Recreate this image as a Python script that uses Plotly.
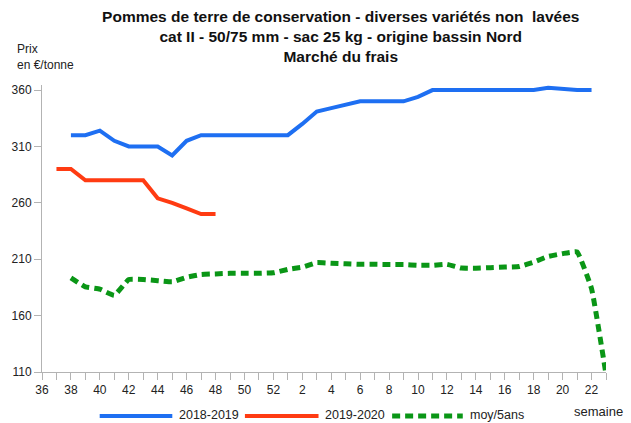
import plotly.graph_objects as go

# Week categories (campaign from week 36 to week 23)
weeks = [str(w) for w in list(range(36, 53)) + list(range(1, 24))]
tick_labels = [w if i % 2 == 0 else "" for i, w in enumerate(weeks)]

# 2018-2019 : weeks 38 .. 22
weeks_1819 = weeks[2:39]
prix_1819 = [320, 320, 324, 315, 310, 310, 310, 302, 315, 320,
             320, 320, 320, 320, 320, 320,
             330, 341, 344, 347, 350, 350, 350, 350, 354, 360,
             360, 360, 360, 360, 360, 360, 360, 362, 361, 360, 360]

# 2019-2020 : weeks 37 .. 48
weeks_1920 = weeks[1:13]
prix_1920 = [290, 290, 280, 280, 280, 280, 280, 264, 260, 255, 250, 250]

# moyenne 5 ans : weeks 38 .. 23
weeks_moy = weeks[2:40]
prix_moy = [193.5, 185.5, 183.5, 178, 192, 192, 191, 190, 194, 196.5,
            197, 197.5, 197.5, 197.5, 198, 201, 203, 207, 206.5, 206,
            205.5, 205.5, 205.3, 205.3, 204.6, 204.6, 205.5, 202.2, 202, 202.5,
            203, 203.5, 207.5, 212.5, 215, 216.5, 184, 108]

y_ticks = [110, 160, 210, 260, 310, 360]

fig = go.Figure()
fig.add_trace(go.Scatter(x=weeks_1819, y=prix_1819, mode="lines", name="2018-2019",
                         line=dict(color="#1e6ff2", width=4), showlegend=False))
fig.add_trace(go.Scatter(x=weeks_1920, y=prix_1920, mode="lines", name="2019-2020",
                         line=dict(color="#ff3b12", width=4), showlegend=False))
fig.add_trace(go.Scatter(x=weeks_moy, y=prix_moy, mode="lines", name="moy/5ans",
                         line=dict(color="#0a9616", width=5, dash="8px,5px", shape="spline", smoothing=0.3),
                         showlegend=False))

# plot area in pixels: x 39..606, y 85..372
L, R, T, B = 39, 606, 85, 372
W, H = R - L, B - T
def px(x):
    return (x - L) / W
def py(y):
    return (B - y) / H

shapes = []
annotations = []
legend_items = [
    (97, 170, "#1e6ff2", "solid", 4, 175, "2018-2019"),
    (243, 317, "#ff3b12", "solid", 4, 321, "2019-2020"),
    (391, 462, "#0a9616", "8px,5px", 5, 467, "moy/5ans"),
]
ly = 415
for x0, x1, col, dash, w, tx, label in legend_items:
    shapes.append(dict(type="line", xref="paper", yref="paper",
                       x0=px(x0), x1=px(x1), y0=py(ly + 1), y1=py(ly + 1),
                       line=dict(color=col, width=w, dash=dash)))
    annotations.append(dict(text=label, xref="paper", yref="paper", x=px(tx), y=py(ly),
                            xanchor="left", yanchor="middle", showarrow=False,
                            font=dict(size=12.5, color="#222")))
annotations.append(dict(text="semaine", xref="paper", yref="paper", x=px(598), y=py(411),
                        xanchor="center", yanchor="middle", showarrow=False,
                        font=dict(size=13, color="#222")))
annotations.append(dict(text="Prix<br>en €/tonne", xref="paper", yref="paper", x=px(12), y=py(40),
                        xanchor="left", yanchor="top", align="left", showarrow=False,
                        font=dict(size=12, color="#222")))

fig.update_layout(
    width=631, height=423,
    margin=dict(l=L, r=631 - R, t=T, b=423 - B),
    paper_bgcolor="white", plot_bgcolor="white",
    font=dict(family="Liberation Sans, Arial, sans-serif", size=12, color="#222"),
    title=dict(text="<b>Pommes de terre de conservation - diverses variétés non  lavées<br>"
                    "cat II - 50/75 mm - sac 25 kg - origine bassin Nord<br>Marché du frais</b>",
               x=0.54, xanchor="center", y=0.948, yanchor="top",
               font=dict(size=15.5, color="#111")),
    xaxis=dict(type="category", categoryorder="array", categoryarray=weeks,
               range=[0, 39], tickvals=weeks, ticktext=tick_labels,
               showgrid=False, zeroline=False, showline=True, linecolor="#b3b3b3", linewidth=1,
               ticks="outside", ticklen=7, tickcolor="#b3b3b3",
               tickfont=dict(size=12, color="#222")),
    yaxis=dict(range=[110, 364.5], tickvals=y_ticks, ticktext=[str(v) for v in y_ticks],
               showgrid=False, zeroline=False, showline=True, linecolor="#b3b3b3", linewidth=1,
               ticks="outside", ticklen=7, tickcolor="#b3b3b3",
               tickfont=dict(size=12, color="#222")),
    shapes=shapes, annotations=annotations,
)
fig.write_html("out.html", config={"displayModeBar": False},
               post_script="document.body.style.margin='0';document.body.style.overflow='hidden';")
